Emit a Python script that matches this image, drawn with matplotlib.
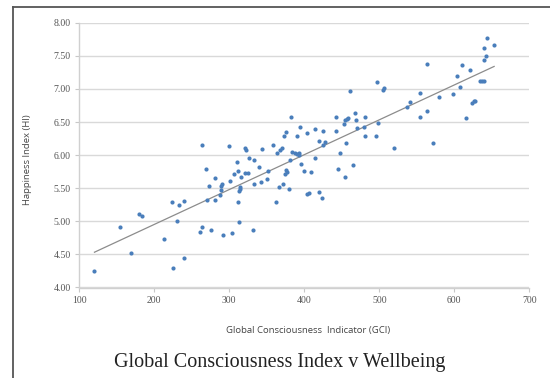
import numpy as np
import matplotlib
matplotlib.use("Agg")
import matplotlib.pyplot as plt
from matplotlib.lines import Line2D

# Data
gci = [120.2, 154.8, 168.9, 180.2, 183.4, 212.5, 224.2, 224.7, 229.8, 232.7,
       240.2, 240.2, 260.8, 263.6, 263.6, 268.8, 270.2, 273.4, 275.8, 280.5,
       280.9, 287.0, 288.4, 288.4, 290.8, 292.2, 299.7, 301.1, 303.0, 305.8,
       310.5, 311.4, 311.9, 312.3, 313.3, 314.2, 314.7, 316.1, 320.3, 321.3,
       321.7, 324.5, 326.4, 331.1, 333.0, 333.4, 339.1, 342.3, 344.2, 350.8,
       351.7, 358.3, 362.0, 363.0, 366.7, 368.1, 369.6, 371.0, 372.4, 373.8,
       375.2, 375.6, 376.6, 379.9, 380.8, 382.7, 383.2, 387.3, 389.7, 390.2,
       392.5, 393.0, 394.8, 395.3, 399.1, 403.3, 404.2, 405.6, 408.4, 413.6,
       414.5, 419.2, 420.1, 423.0, 424.8, 425.3, 428.1, 442.2, 442.6, 445.0,
       447.8, 453.4, 454.4, 454.4, 455.3, 456.3, 457.7, 460.5, 465.2, 468.0,
       469.4, 470.3, 479.2, 480.6, 480.6, 496.1, 497.0, 498.0, 504.5, 505.9,
       519.1, 536.9, 540.6, 553.8, 554.7, 563.6, 564.1, 572.0, 580.0, 598.3,
       603.0, 607.2, 610.5, 615.2, 621.3, 623.1, 626.0, 627.8, 634.8, 636.7,
       639.1, 639.1, 640.0, 642.9, 643.8, 653.1]
happiness = [4.25, 4.92, 4.52, 5.11, 5.08, 4.74, 5.29, 4.29, 5.00, 5.25,
             5.30, 4.45, 4.84, 4.92, 6.16, 5.79, 5.32, 5.54, 4.87, 5.66,
             5.32, 5.40, 5.47, 5.54, 5.56, 4.80, 6.14, 5.61, 4.83, 5.72,
             5.90, 5.29, 5.76, 5.46, 4.99, 5.52, 5.49, 5.67, 5.73, 6.10,
             6.07, 5.73, 5.95, 4.87, 5.93, 5.57, 5.82, 5.60, 6.09, 5.64,
             5.76, 6.16, 5.29, 6.03, 5.52, 6.07, 6.10, 5.57, 6.29, 5.72,
             5.77, 6.35, 5.74, 5.49, 5.93, 6.57, 6.05, 6.03, 6.29, 6.02,
             6.00, 6.03, 6.43, 5.86, 5.76, 5.41, 6.33, 5.43, 5.75, 5.95,
             6.40, 6.22, 5.45, 5.35, 6.36, 6.15, 6.20, 6.36, 6.58, 5.79,
             6.03, 6.47, 6.53, 5.67, 6.19, 6.54, 6.56, 6.97, 5.85, 6.64,
             6.53, 6.41, 6.43, 6.57, 6.29, 6.29, 7.10, 6.48, 6.99, 7.01,
             6.11, 6.72, 6.80, 6.57, 6.94, 7.38, 6.66, 6.19, 6.88, 6.92,
             7.20, 7.03, 7.36, 6.56, 7.29, 6.79, 6.81, 6.82, 7.12, 7.12,
             7.12, 7.62, 7.44, 7.50, 7.77, 7.66]

x_ticks = [100, 200, 300, 400, 500, 600, 700]
y_ticks = [4.0, 4.5, 5.0, 5.5, 6.0, 6.5, 7.0, 7.5, 8.0]
x_label = "Global Consciousness  Indicator (GCI)"
y_label = "Happiness Index (HI)"
title = "Global Consciousness Index v Wellbeing"

fig = plt.figure(figsize=(5.5, 3.78), dpi=100)
ax = fig.add_axes([79.3 / 550, 1 - 287.5 / 378, 450 / 550, (287.5 - 22.7) / 378])

gx = np.array(gci)
gy = np.array(happiness)
ax.scatter(gx, gy, s=9, color="#4A7EBB", zorder=3, linewidths=0)

coef = np.polyfit(gx, gy, 1)
tx = np.array([gx.min(), gx.max()])
ax.plot(tx, np.polyval(coef, tx), color="#8C8C8C", lw=0.9, zorder=2)

ax.set_xlim(100, 700)
ax.set_ylim(4.0, 8.0)
ax.set_xticks(x_ticks)
ax.set_yticks(y_ticks)
ax.set_xticklabels([str(t) for t in x_ticks])
ax.set_yticklabels([f"{t:.2f}" for t in y_ticks])
ax.grid(axis="y", color="#D9D9D9", lw=1.0)
ax.set_axisbelow(True)
for s in ["top", "right"]:
    ax.spines[s].set_visible(False)
for s in ["left", "bottom"]:
    ax.spines[s].set_color("#D0D0D0")
    ax.spines[s].set_linewidth(1.0)
ax.tick_params(axis="both", colors="#C8C8C8", length=3, width=0.8,
               labelcolor="#555555", labelsize=7, pad=3)
for lbl in ax.get_xticklabels() + ax.get_yticklabels():
    lbl.set_fontfamily("Liberation Serif")

fig.text(308.5 / 550, 1 - 330 / 378, x_label, ha="center", va="center",
         fontsize=6.8, family="Open Sans", color="#444444")
fig.text(28 / 550, 1 - 160 / 378, y_label, ha="center", va="center",
         rotation=90, fontsize=6.8, family="Open Sans", color="#444444")
fig.text(280 / 550, 1 - 363 / 378, title, ha="center", va="center",
         fontsize=14.5, family="Liberation Serif", color="#222222")

# frame lines
fig.add_artist(Line2D([13.3 / 550, 13.3 / 550], [0, 1 - 7.3 / 378],
                      transform=fig.transFigure, color="#555555", lw=1.3))
fig.add_artist(Line2D([13.3 / 550, 1], [1 - 7.3 / 378, 1 - 7.3 / 378],
                      transform=fig.transFigure, color="#555555", lw=1.3))

fig.savefig("out.png", dpi=100)
